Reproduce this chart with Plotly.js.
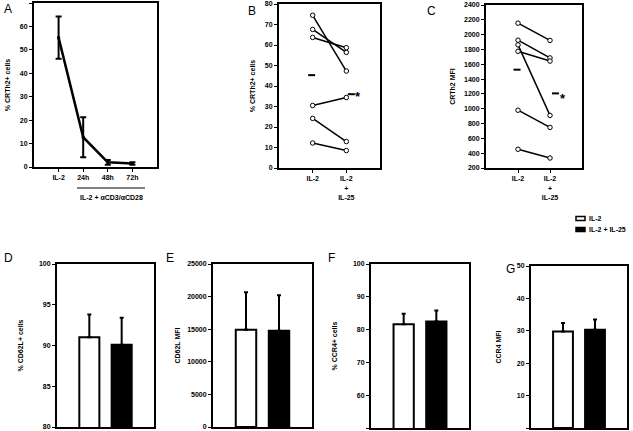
<!DOCTYPE html>
<html><head><meta charset="utf-8">
<script src="https://cdn.plot.ly/plotly-3.0.1.min.js"></script>
<style>html,body{margin:0;padding:0;background:#fff}#g{width:633px;height:431px}</style>
</head><body><div id="g"></div>
<script>
// ---- data ----
const timeCats = ['IL-2', '24h', '48h', '72h'];
const aMean = [55.2, 12.7, 2.0, 1.5];
const aErr = [9.0, 8.5, 1.0, 0.5];

const pairCats = ['IL-2', 'IL-2 + IL-25'];
const pairTickText = ['IL-2', 'IL-2<br>+<br>IL-25'];
const bIL2  = [74.5, 67.6, 63.7, 30.5, 24.2, 12.2];
const bIL25 = [47.3, 56.4, 58.7, 34.4, 12.9, 8.5];
const bMeans = [45.3, 36.0];
const cIL2  = [2155, 1925, 1862, 1775, 980, 453];
const cIL25 = [1922, 1686, 910, 1643, 748, 335];
const cMeans = [1527, 1207];

const barCats = ['IL-2', 'IL-2 + IL-25'];
const dVals = [91.0, 90.1], dErr = [2.8, 3.3];
const eVals = [14900, 14750], eErr = [5750, 5450];
const fVals = [81.6, 82.5], fErr = [3.2, 3.3];
const gVals = [29.8, 30.3], gErr = [2.6, 3.2];

const legendNames = ['IL-2', 'IL-2 + IL-25'];
const barColors = ['white', 'black'];

// ---- layout helpers ----
const W = 633, H = 431;
const xd = (l, r) => [l / W, r / W];
const yd = (t, b) => [1 - b / H, 1 - t / H];
const FONT = 'Liberation Sans, Arial, sans-serif';
const tickfont = {family: FONT, size: 7, color: 'black', weight: 'bold'};
function ax(extra) {
  return Object.assign({
    showline: true, mirror: true, linewidth: 2, linecolor: 'black',
    ticks: 'outside', ticklen: 3, tickwidth: 1, tickcolor: 'black',
    showgrid: false, zeroline: false, tickfont: tickfont, fixedrange: true,
    tickformat: 'd', exponentformat: 'none'
  }, extra);
}
function ytitle(t, standoff) {
  return {text: t, font: {family: FONT, size: 7, color: 'black', weight: 'bold'}, standoff: standoff};
}

const traces = [];
const pos = cats => cats.map((c, i) => i + 1);

// Panel A
traces.push({
  x: pos(timeCats), y: aMean, xaxis: 'x', yaxis: 'y', type: 'scatter', mode: 'lines+markers',
  line: {color: 'black', width: 2.5}, marker: {color: 'black', size: 3, symbol: 'square'},
  error_y: {type: 'data', array: aErr, color: 'black', thickness: 2, width: 3},
  showlegend: false, hoverinfo: 'skip'
});

// Panels B and C
function pairs(a, b, xa, ya) {
  for (let i = 0; i < a.length; i++) {
    traces.push({
      x: pos(pairCats), y: [a[i], b[i]], xaxis: xa, yaxis: ya, type: 'scatter', mode: 'lines+markers',
      line: {color: 'black', width: 1.5},
      marker: {symbol: 'circle', size: 4.5, color: 'white', line: {width: 1, color: 'black'}},
      showlegend: false, hoverinfo: 'skip'
    });
  }
}
pairs(bIL2, bIL25, 'x2', 'y2');
pairs(cIL2, cIL25, 'x3', 'y3');
function means(m, xa, ya, offs) {
  traces.push({
    x: pos(pairCats).map((p, i) => p + offs[i]), y: m, xaxis: xa, yaxis: ya, type: 'scatter', mode: 'markers',
    marker: {symbol: 'line-ew', size: 5, line: {color: 'black', width: 2}},
    showlegend: false, hoverinfo: 'skip'
  });
}
means(bMeans, 'x2', 'y2', [-0.03, 0.15]);
means(cMeans, 'x3', 'y3', [-0.03, 0.17]);

// Bar panels
function bars(vals, errs, xa, ya) {
  vals.forEach((v, i) => {
    traces.push({
      x: [i + 1], y: [v], xaxis: xa, yaxis: ya, type: 'bar', width: 0.62,
      marker: {color: barColors[i], line: {color: 'black', width: 2}},
      error_y: {type: 'data', symmetric: false, array: [errs[i]], arrayminus: [0], color: 'black', thickness: 2, width: 2},
      showlegend: false, hoverinfo: 'skip', name: legendNames[i]
    });
  });
}
bars(dVals, dErr, 'x4', 'y4');
bars(eVals, eErr, 'x5', 'y5');
bars(fVals, fErr, 'x6', 'y6');
bars(gVals, gErr, 'x7', 'y7');

const layout = {
  width: W, height: H, margin: {l: 0, r: 0, t: 0, b: 0},
  paper_bgcolor: 'white', plot_bgcolor: 'white', showlegend: false, barmode: 'overlay',
  font: {family: FONT, color: 'black'},
  xaxis: ax({domain: xd(34, 157), range: [0, 5], tickvals: pos(timeCats), ticktext: timeCats, anchor: 'y'}),
  yaxis: ax({domain: yd(3, 167), range: [0, 70], dtick: 10, anchor: 'x', title: ytitle('% CRTh2+ cells', 8)}),
  xaxis2: ax({domain: xd(279, 380), range: [0, 3], tickvals: pos(pairCats), ticktext: pairTickText, anchor: 'y2'}),
  yaxis2: ax({domain: yd(4, 168), range: [0, 80], dtick: 10, anchor: 'x2', title: ytitle('% CRTh2+ cells', 8)}),
  xaxis3: ax({domain: xd(486, 582), range: [0, 3], tickvals: pos(pairCats), ticktext: pairTickText, anchor: 'y3'}),
  yaxis3: ax({domain: yd(5, 168), range: [200, 2400], dtick: 200, anchor: 'x3', title: ytitle('CRTh2 MFI', 8)}),
  xaxis4: ax({domain: xd(57, 154), range: [0, 3], showticklabels: false, ticks: '', anchor: 'y4'}),
  yaxis4: ax({domain: yd(264, 427), range: [80, 100], dtick: 5, anchor: 'x4', title: ytitle('% CD62L+ cells', 14)}),
  xaxis5: ax({domain: xd(213, 312), range: [0, 3], showticklabels: false, ticks: '', anchor: 'y5'}),
  yaxis5: ax({domain: yd(264, 427), range: [0, 25000], dtick: 5000, anchor: 'x5', title: ytitle('CD62L MFI', 6)}),
  xaxis6: ax({domain: xd(371, 469), range: [0, 3], showticklabels: false, ticks: '', anchor: 'y6'}),
  yaxis6: ax({domain: yd(264, 428), range: [50, 100], dtick: 10, anchor: 'x6', title: ytitle('% CCR4+ cells', 14)}),
  xaxis7: ax({domain: xd(531, 627), range: [0, 3], showticklabels: false, ticks: '', anchor: 'y7'}),
  yaxis7: ax({domain: yd(266, 428), range: [0, 50], dtick: 10, anchor: 'x7', title: ytitle('CCR4 MFI', 14)}),
  shapes: [
    {type: 'line', xref: 'paper', yref: 'paper', x0: 77 / W, x1: 145 / W, y0: 1 - 188 / H, y1: 1 - 188 / H, line: {color: 'black', width: 1}},
    {type: 'rect', xref: 'paper', yref: 'paper', x0: 576 / W, x1: 585 / W, y0: 1 - 220.5 / H, y1: 1 - 216.5 / H, fillcolor: barColors[0], line: {color: 'black', width: 1.5}},
    {type: 'rect', xref: 'paper', yref: 'paper', x0: 576 / W, x1: 585 / W, y0: 1 - 231.5 / H, y1: 1 - 227.5 / H, fillcolor: barColors[1], line: {color: 'black', width: 1.5}}
  ],
  annotations: []
};
const ann = (text, x, y, size, extra) => layout.annotations.push(Object.assign({
  text: text, xref: 'paper', yref: 'paper', x: x / W, y: 1 - y / H, showarrow: false,
  font: {family: FONT, size: size, color: 'black'}, xanchor: 'center', yanchor: 'middle'
}, extra || {}));
ann('A', 8, 9, 12);
ann('B', 252, 11, 12);
ann('C', 431, 11, 12);
ann('D', 8, 258, 12);
ann('E', 170, 258, 12);
ann('F', 331, 258, 12);
ann('G', 510, 269, 12);
ann('IL-2 + αCD3/αCD28', 111, 197, 7, {font: {family: FONT, size: 7, color: 'black', weight: 'bold'}});
ann('*', 358, 97, 13, {font: {family: FONT, size: 13, color: 'black', weight: 'bold'}});
ann('*', 563, 98, 13, {font: {family: FONT, size: 13, color: 'black', weight: 'bold'}});
ann(legendNames[0], 587, 218.5, 7, {xanchor: 'left', font: {family: FONT, size: 7, color: 'black', weight: 'bold'}});
ann(legendNames[1], 587, 229.5, 7, {xanchor: 'left', font: {family: FONT, size: 7, color: 'black', weight: 'bold'}});

Plotly.newPlot('g', traces, layout, {staticPlot: true, displayModeBar: false});
</script></body></html>
